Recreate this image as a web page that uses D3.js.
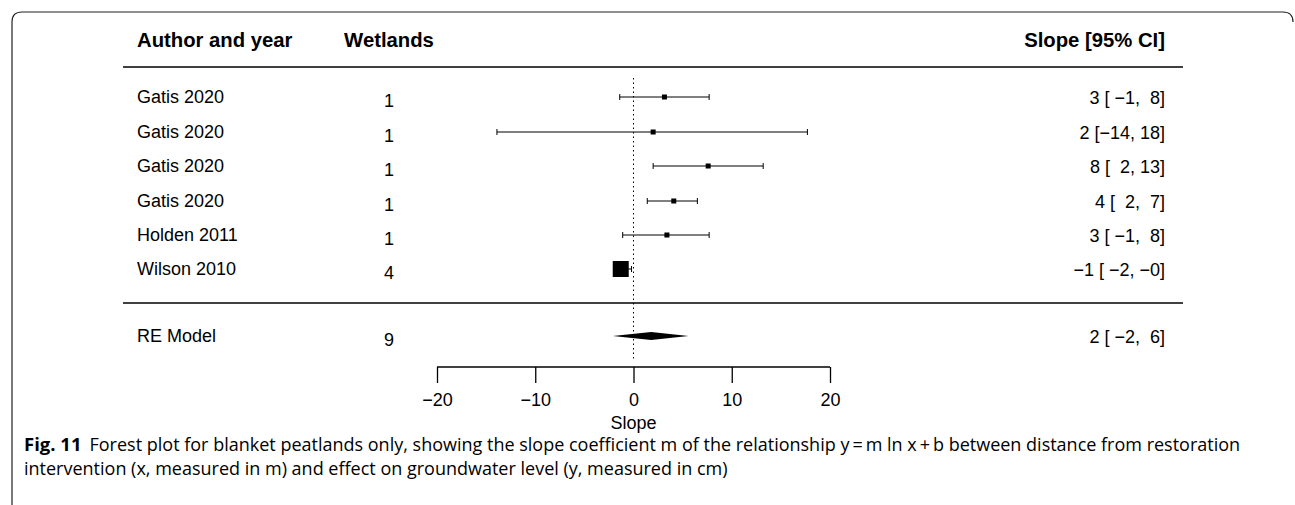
<!DOCTYPE html>
<html><head><meta charset="utf-8">
<script src="https://cdn.jsdelivr.net/npm/d3@7"></script>
<style>body{margin:0;background:#fff}</style>
</head><body>
<script>
// data
var authors = ["Gatis 2020","Gatis 2020","Gatis 2020","Gatis 2020","Holden 2011","Wilson 2010"];
var wetlands = [1,1,1,1,1,4];
var est = [3.15, 2.0, 7.6, 4.1, 3.4, -1.3];
var lo = [-1.4, -13.9, 2.0, 1.4, -1.1, -2.0];
var hi = [7.7, 17.7, 13.2, 6.5, 7.7, -0.2];
var labels = ["3 [ \u22121,  8]","2 [\u221214, 18]","8 [  2, 13]","4 [  2,  7]","3 [ \u22121,  8]","\u22121 [ \u22122, \u22120]"];
var sizes = [5,5,5,5,5,16];
var reModel = {est:1.8, lo:-2.1, hi:5.6, k:9, label:"2 [ \u22122,  6]"};
var xTicks = [-20,-10,0,10,20];

var W=1295,H=505;
var svg=d3.select("body").append("svg").attr("width",W).attr("height",H);
var font="Liberation Sans, Arial, sans-serif";
var fs=18;

// frame
svg.append("path").attr("d","M12,505 V22 Q12,12 22,12 H1283 Q1293,12 1293,22")
  .attr("fill","none").attr("stroke","#222").attr("stroke-width",1.2);

var x=d3.scaleLinear().domain([-20,20]).range([437,830]);
var rowY=[97,132,166,201,235,269];

// header
var hdr=[["Author and year",137,"start"],["Wetlands",389,"middle"],["Slope [95% CI]",1165,"end"]];
hdr.forEach(function(h){
  svg.append("text").attr("x",h[1]).attr("y",47).attr("text-anchor",h[2])
    .attr("font-family",font).attr("font-size",20.3).attr("font-weight","bold").text(h[0]);
});
svg.append("line").attr("x1",123).attr("x2",1183).attr("y1",67).attr("y2",67).attr("stroke","#000").attr("stroke-width",1.3);
svg.append("line").attr("x1",123).attr("x2",1183).attr("y1",303).attr("y2",303).attr("stroke","#000").attr("stroke-width",1.3);

// reference line at 0
svg.append("line").attr("x1",x(0)).attr("x2",x(0)).attr("y1",78).attr("y2",360)
  .attr("stroke","#000").attr("stroke-dasharray","1.5,3");

function txt(xp,y,anchor,s){
  return svg.append("text").attr("x",xp).attr("y",y).attr("text-anchor",anchor)
    .attr("font-family",font).attr("font-size",fs).style("white-space","pre").text(s);
}

authors.forEach(function(a,i){
  var y=rowY[i];
  txt(137,y+6,"start",a);
  txt(389,y+10,"middle",wetlands[i]);
  txt(1165,y+7,"end",labels[i]);
  svg.append("line").attr("x1",x(lo[i])).attr("x2",x(hi[i])).attr("y1",y).attr("y2",y).attr("stroke","#000");
  [lo[i],hi[i]].forEach(function(v){
    svg.append("line").attr("x1",x(v)).attr("x2",x(v)).attr("y1",y-3).attr("y2",y+3).attr("stroke","#000");
  });
  var s=sizes[i];
  svg.append("rect").attr("x",x(est[i])-s/2).attr("y",y-s/2).attr("width",s).attr("height",s).attr("fill","#000");
});

// RE model
var ry=336;
txt(137,ry+6,"start","RE Model");
txt(389,ry+10,"middle",reModel.k);
txt(1165,ry+7,"end",reModel.label);
svg.append("path").attr("d","M"+x(reModel.lo)+","+ry+" L"+x(reModel.est)+","+(ry-4)+" L"+x(reModel.hi)+","+ry+" L"+x(reModel.est)+","+(ry+4)+"Z").attr("fill","#000");

// axis
var ax=svg.append("g").attr("transform","translate(0,367)")
  .call(d3.axisBottom(x).tickValues(xTicks).tickSize(0).tickFormat(function(d){return d<0?"\u2212"+(-d):d;}));
ax.select(".domain").attr("d","M437,0H830").attr("stroke-width",1.3);
ax.selectAll(".tick line").attr("y2",16).attr("stroke-width",1.3);
ax.selectAll(".tick text").attr("y",26).attr("font-family",font).attr("font-size",fs).attr("fill","#000");
svg.append("text").attr("x",x(0)).attr("y",429).attr("text-anchor","middle").attr("font-family",font).attr("font-size",fs).text("Slope");

// caption
var cf="Open Sans, Noto Sans, sans-serif";
var c1=svg.append("text").attr("x",24).attr("y",451).attr("font-family",cf).attr("font-size",18);
c1.append("tspan").attr("font-weight","bold").attr("font-size",18.5).text("Fig. 11");
c1.append("tspan").attr("dx",8).text("Forest plot for blanket peatlands only, showing the slope coefficient m of the relationship y\u2009=\u2009m ln x\u2009+\u2009b between distance from restoration");
svg.append("text").attr("x",24).attr("y",475).attr("font-family",cf).attr("font-size",18)
  .text("intervention (x, measured in m) and effect on groundwater level (y, measured in cm)");
</script>
</body></html>
